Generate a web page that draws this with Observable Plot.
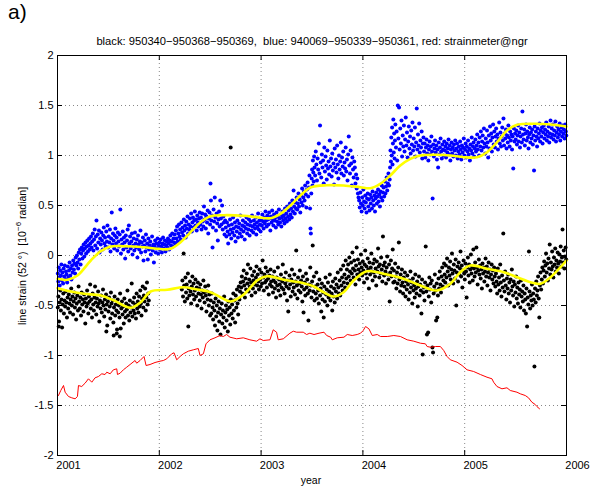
<!DOCTYPE html>
<html><head><meta charset="utf-8">
<script src="https://cdn.jsdelivr.net/npm/d3@7"></script>
<script src="https://cdn.jsdelivr.net/npm/@observablehq/plot@0.6"></script>
<style>
body{margin:0;background:#fff;}
#wrap{position:relative;width:590px;height:488px;font-family:"Liberation Sans",Arial,Helvetica,sans-serif;color:#000;}
.t{position:absolute;white-space:nowrap;}
</style></head><body>
<div id="wrap">
<div class="t" id="lab" style="left:8px;top:0px;font-size:21px;">a)</div>
<div class="t" id="title" style="left:312px;top:41px;font-size:11.2px;transform:translate(-50%,-50%);">black: 950340−950368−950369,&nbsp; blue: 940069−950339−950361, red: strainmeter@ngr</div>
<div class="t" id="ylab" style="left:22px;top:256px;font-size:10.5px;transform:translate(-50%,-50%) rotate(-90deg);">line strain (52 °)&nbsp; [10<sup style="font-size:8px;vertical-align:5px;line-height:0">−6</sup> radian]</div>
<div class="t" id="xlab" style="left:311px;top:480px;font-size:10.5px;transform:translate(-50%,-50%);">year</div>
</div>
<script>
const xTicks = [2001, 2002, 2003, 2004, 2005, 2006];
const yTicks = [-2, -1.5, -1, -0.5, 0, 0.5, 1, 1.5, 2];

const bluePts = [
[2001.003,-0.18],[2001.008,-0.26],[2001.012,-0.12],[2001.018,-0.22],[2001.022,-0.30],[2001.027,-0.15],[2001.033,-0.20],[2001.038,-0.09],[2001.043,-0.25],[2001.049,-0.17],[2001.055,-0.28],[2001.060,-0.13],[2001.066,-0.21],[2001.072,-0.10],[2001.077,-0.24],[2001.083,-0.16],[2001.089,-0.19],[2001.095,-0.27],[2001.101,-0.11],[2001.107,-0.22],[2001.113,-0.15],[2001.119,-0.07],[2001.125,-0.20],[2001.131,-0.13],[2001.137,-0.24],[2001.143,-0.10],[2001.149,-0.17],
[2001.155,-0.05],[2001.161,-0.14],[2001.167,-0.08],[2001.173,-0.18],[2001.179,-0.02],[2001.185,-0.10],[2001.191,0.00],[2001.197,-0.07],[2001.203,-0.13],[2001.209,0.03],[2001.215,-0.04],[2001.221,0.06],[2001.227,-0.09],[2001.233,0.02],[2001.239,0.08],[2001.245,-0.03],[2001.251,0.05],[2001.257,0.11],[2001.263,-0.01],[2001.269,0.07],[2001.275,0.13],[2001.281,0.02],[2001.287,0.09],[2001.293,0.15],[2001.299,0.04],[2001.305,0.10],[2001.311,0.17],[2001.317,0.06],[2001.323,0.12],[2001.329,0.19],[2001.335,0.08],[2001.341,0.14],
[2001.347,0.22],[2001.353,0.05],[2001.359,0.16],[2001.365,0.26],[2001.371,0.10],[2001.377,0.19],[2001.383,0.35],[2001.389,0.07],[2001.395,0.21],[2001.401,0.13],[2001.407,0.25],[2001.413,0.03],[2001.419,0.17],[2001.425,0.11],[2001.431,0.23],[2001.437,0.15],[2001.443,0.06],[2001.449,0.20],[2001.455,0.28],[2001.461,0.12],[2001.467,0.18],[2001.473,0.09],[2001.479,0.24],[2001.485,0.14],[2001.491,0.30],[2001.497,0.08],[2001.503,0.19],[2001.509,0.13],[2001.515,0.26],[2001.521,0.04],[2001.527,0.17],[2001.533,0.43],[2001.539,0.11],[2001.545,0.22],[2001.551,0.15],[2001.557,0.07],[2001.563,0.20],[2001.569,0.27],[2001.575,0.12],[2001.581,0.18],[2001.587,0.05],[2001.593,0.23],[2001.599,0.14],
[2001.605,0.09],[2001.611,0.21],[2001.617,0.46],[2001.623,0.02],[2001.629,0.16],[2001.635,0.11],[2001.641,0.24],[2001.647,0.06],[2001.653,0.18],[2001.659,0.13],[2001.665,-0.03],[2001.671,0.20],[2001.677,0.08],[2001.683,0.15],[2001.689,0.26],[2001.695,0.04],[2001.701,0.30],[2001.707,0.12],[2001.713,0.19],[2001.719,0.07],[2001.725,0.14],[2001.731,0.22],[2001.737,0.01],[2001.743,0.10],[2001.749,0.17],[2001.755,0.05],[2001.761,0.23],[2001.767,0.12],[2001.773,0.08],[2001.779,0.16],[2001.785,-0.02],[2001.791,0.20],[2001.797,0.11],[2001.803,0.06],[2001.809,0.14],[2001.815,0.25],[2001.821,0.03],[2001.827,0.13],[2001.833,0.09],[2001.839,0.18],[2001.845,-0.05],[2001.851,0.10],[2001.857,0.15],[2001.863,0.04],[2001.869,0.21],[2001.875,0.08],[2001.881,0.12],[2001.887,-0.04],[2001.893,0.17],[2001.899,0.06],[2001.905,0.10],[2001.911,0.14],[2001.917,0.01],[2001.923,0.08],[2001.929,0.19],[2001.935,0.05],[2001.941,0.11],[2001.947,-0.07],[2001.953,0.09],[2001.959,0.15],[2001.965,0.03],[2001.971,0.12],[2001.977,0.07],[2001.983,0.17],[2001.989,0.02],[2001.995,0.10],
[2002.001,0.13],[2002.007,0.06],[2002.013,0.16],[2002.019,0.09],[2002.025,0.03],[2002.031,0.12],[2002.037,0.18],[2002.043,0.07],[2002.049,0.11],[2002.055,0.15],[2002.061,0.04],[2002.067,0.10],[2002.073,0.14],[2002.079,0.08],[2002.085,0.17],[2002.091,0.12],[2002.097,0.06],[2002.103,0.15],[2002.109,0.20],[2002.115,0.10],[2002.121,0.14],[2002.127,0.22],[2002.133,0.09],[2002.139,0.17],[2002.145,0.13],
[2002.151,0.21],[2002.157,0.12],[2002.163,0.25],[2002.169,0.17],[2002.175,0.29],[2002.181,0.14],[2002.187,0.22],[2002.193,0.31],[2002.199,0.19],[2002.205,0.26],[2002.211,0.16],[2002.217,0.33],[2002.223,0.23],[2002.229,0.28],[2002.235,0.20],[2002.241,0.36],[2002.247,0.25],[2002.253,0.30],[2002.259,0.18],[2002.265,0.34],[2002.271,0.27],[2002.277,0.39],[2002.283,0.22],[2002.289,0.31],[2002.295,0.26],[2002.301,0.37],[2002.307,0.29],[2002.313,0.42],[2002.319,0.24],[2002.325,0.33],[2002.331,0.38],[2002.337,0.28],[2002.343,0.35],[2002.349,0.44],[2002.355,0.30],[2002.361,0.36],[2002.367,0.25],[2002.373,0.40],[2002.379,0.33],[2002.385,0.29],[2002.391,0.37],[2002.397,0.43],
[2002.403,0.31],[2002.409,0.38],[2002.415,0.26],[2002.421,0.42],[2002.427,0.34],[2002.433,0.29],[2002.439,0.49],[2002.445,0.36],[2002.451,0.41],[2002.457,0.27],[2002.463,0.39],[2002.469,0.33],[2002.475,0.45],[2002.481,0.22],[2002.487,0.37],[2002.493,0.43],[2002.499,0.31],[2002.503,0.72],[2002.507,0.55],[2002.511,0.35],[2002.517,0.40],[2002.523,0.08],[2002.527,0.28],[2002.533,0.46],[2002.539,0.34],[2002.545,0.58],[2002.551,0.38],[2002.557,0.25],[2002.563,0.42],[2002.569,0.32],[2002.575,0.15],[2002.581,0.36],[2002.587,0.44],[2002.593,0.29],[2002.599,0.55],[2002.605,0.37],[2002.611,0.31],[2002.617,0.50],[2002.623,0.26],[2002.629,0.39],[2002.635,0.33],[2002.641,0.21],[2002.647,0.35],
[2002.653,0.28],[2002.659,0.19],[2002.665,0.33],[2002.671,0.24],[2002.677,0.12],[2002.683,0.30],[2002.689,0.21],[2002.695,0.36],[2002.701,0.26],[2002.707,0.17],[2002.713,0.31],[2002.719,0.23],[2002.725,0.38],[2002.731,0.27],[2002.737,0.20],[2002.743,0.33],[2002.749,0.14],[2002.755,0.29],[2002.761,0.24],[2002.767,0.35],[2002.773,0.18],[2002.779,0.28],[2002.785,0.32],[2002.791,0.22],[2002.797,0.40],[2002.803,0.26],[2002.809,0.19],[2002.815,0.30],[2002.821,0.35],[2002.827,0.24],[2002.833,0.29],[2002.839,0.16],[2002.845,0.33],[2002.851,0.27],[2002.857,0.38],[2002.863,0.22],[2002.869,0.31],[2002.875,0.26],[2002.881,0.36],[2002.887,0.20],[2002.893,0.30],[2002.899,0.34],[2002.905,0.25],[2002.911,0.40],[2002.917,0.29],[2002.923,0.23],[2002.929,0.35],[2002.935,0.31],[2002.941,0.27],[2002.947,0.38],[2002.953,0.21],[2002.959,0.33],[2002.965,0.29],[2002.971,0.42],[2002.977,0.26],[2002.983,0.35],[2002.989,0.31],[2002.995,0.24],
[2003.001,0.36],[2003.007,0.30],[2003.013,0.41],[2003.019,0.34],[2003.025,0.27],[2003.031,0.38],[2003.037,0.32],[2003.043,0.44],[2003.049,0.35],[2003.055,0.29],[2003.061,0.40],[2003.067,0.36],[2003.073,0.31],[2003.079,0.43],[2003.085,0.37],[2003.091,0.25],[2003.097,0.39],[2003.103,0.33],[2003.109,0.45],[2003.115,0.36],[2003.121,0.30],[2003.127,0.41],[2003.133,0.35],[2003.139,0.38],[2003.145,0.28],[2003.151,0.43],[2003.157,0.34],[2003.163,0.39],[2003.169,0.31],[2003.175,0.46],[2003.181,0.37],[2003.187,0.33],[2003.193,0.41],[2003.199,0.29],[2003.205,0.38],[2003.211,0.44],[2003.217,0.35],[2003.223,0.40],[2003.229,0.32],[2003.235,0.47],[2003.241,0.37],[2003.247,0.42],[2003.253,0.34],[2003.259,0.49],[2003.265,0.39],[2003.271,0.45],[2003.277,0.36],[2003.283,0.52],[2003.289,0.41],[2003.295,0.47],[2003.301,0.38],[2003.307,0.55],[2003.313,0.44],[2003.319,0.65],[2003.325,0.49],[2003.331,0.42],[2003.337,0.53],[2003.343,0.47],
[2003.349,0.58],[2003.355,0.46],[2003.361,0.52],[2003.367,0.62],[2003.373,0.49],[2003.379,0.56],[2003.385,0.43],[2003.391,0.60],[2003.397,0.53],[2003.403,0.67],[2003.409,0.50],[2003.415,0.58],[2003.421,0.64],[2003.427,0.55],[2003.433,0.70],[2003.439,0.61],[2003.445,0.48],[2003.451,0.66],[2003.457,0.73],[2003.463,0.59],[2003.469,0.68],[2003.475,0.80],[2003.481,0.47],[2003.485,0.27],[2003.489,0.22],[2003.493,0.62],[2003.497,0.77],[2003.501,0.86],[2003.505,0.70],[2003.509,0.95],[2003.513,0.83],[2003.517,0.74],[2003.521,0.99],[2003.525,0.88],
[2003.531,0.80],[2003.537,1.04],[2003.543,0.91],[2003.549,0.75],[2003.555,0.97],[2003.561,0.86],[2003.567,1.12],[2003.573,0.82],[2003.579,1.30],[2003.585,0.93],[2003.591,0.78],[2003.597,1.01],[2003.603,0.88],[2003.609,0.95],[2003.615,0.72],[2003.621,1.08],[2003.627,0.84],[2003.633,0.99],[2003.639,0.90],[2003.645,0.76],[2003.651,1.05],[2003.657,0.87],[2003.663,0.94],[2003.669,0.81],[2003.675,1.15],[2003.681,0.89],[2003.687,0.97],[2003.693,0.79],[2003.699,1.02],[2003.705,0.85],[2003.711,0.92],[2003.717,0.71],[2003.723,1.07],[2003.729,0.88],[2003.735,0.96],[2003.741,0.83],[2003.747,1.10],[2003.753,0.91],[2003.759,0.77],[2003.765,1.00],[2003.771,0.86],[2003.777,0.94],[2003.783,1.13],[2003.789,0.82],[2003.795,0.98],[2003.801,0.89],[2003.807,1.04],[2003.813,0.80],[2003.819,0.93],[2003.825,0.87],[2003.831,1.08],[2003.837,0.84],[2003.843,0.96],[2003.849,0.75],[2003.855,1.01],[2003.861,1.19],[2003.867,0.90],[2003.873,0.82],[2003.879,1.05],[2003.885,0.92],[2003.891,0.70],[2003.897,0.98],[2003.903,0.86],[2003.909,0.78],[2003.915,0.94],[2003.921,0.88],[2003.927,0.72],[2003.933,0.81],[2003.939,0.67],[2003.945,0.77],[2003.951,0.62],[2003.957,0.58],
[2003.963,0.55],[2003.969,0.48],[2003.975,0.63],[2003.981,0.52],[2003.987,0.44],[2003.993,0.58],[2003.999,0.50],[2004.005,0.66],[2004.011,0.54],[2004.017,0.47],[2004.023,0.60],[2004.029,0.53],[2004.035,0.43],[2004.041,0.57],[2004.047,0.62],[2004.053,0.49],[2004.059,0.56],[2004.065,0.45],[2004.071,0.61],[2004.077,0.52],[2004.083,0.58],[2004.089,0.47],[2004.095,0.64],[2004.101,0.55],[2004.107,0.50],[2004.113,0.60],[2004.119,0.44],[2004.125,0.57],[2004.131,0.63],[2004.137,0.52],[2004.143,0.59],[2004.149,0.66],[2004.155,0.54],[2004.161,0.61],[2004.167,0.49],[2004.173,0.64],[2004.179,0.58],[2004.185,0.70],[2004.191,0.55],[2004.197,0.63],[2004.203,0.68],[2004.209,0.59],[2004.215,0.74],[2004.221,0.62],[2004.227,0.69],[2004.233,0.78],[2004.239,0.65],[2004.245,0.72],[2004.251,0.82],[2004.257,0.70],[2004.263,0.76],
[2004.267,0.88],[2004.271,1.05],[2004.275,0.94],[2004.279,1.18],[2004.283,1.00],[2004.287,1.28],[2004.291,0.91],[2004.295,1.12],[2004.299,1.36],[2004.303,1.03],[2004.307,1.22],[2004.311,0.97],[2004.315,1.15],[2004.319,1.31],[2004.325,1.08],[2004.331,1.24],[2004.337,0.95],[2004.343,1.50],[2004.349,1.17],[2004.355,1.48],[2004.361,1.06],[2004.367,1.27],[2004.373,1.12],[2004.379,1.35],[2004.385,0.99],[2004.391,1.20],[2004.397,1.09],[2004.403,1.30],[2004.409,1.04],[2004.415,1.16],[2004.421,1.38],[2004.427,1.10],[2004.433,1.23],[2004.439,0.98],[2004.445,1.14],[2004.451,1.29],[2004.457,1.07],[2004.463,1.19],[2004.469,1.02],[2004.475,1.25],[2004.481,1.11],[2004.487,1.33],[2004.493,1.05],[2004.499,1.17],[2004.505,1.09],[2004.511,1.28],[2004.517,0.99],[2004.523,1.13],[2004.529,1.47],[2004.535,1.06],[2004.541,1.21],[2004.547,1.10],[2004.553,1.32],[2004.559,1.03],[2004.565,1.15],[2004.571,1.08],[2004.577,1.24],[2004.583,0.97],[2004.589,1.12],[2004.595,1.18],
[2004.601,1.04],[2004.607,1.12],[2004.613,0.98],[2004.619,1.08],[2004.625,1.16],[2004.631,1.02],[2004.637,1.10],[2004.643,0.95],[2004.649,1.06],[2004.655,1.14],[2004.661,1.01],[2004.667,1.09],[2004.673,1.19],[2004.679,1.04],[2004.685,0.57],[2004.691,1.11],[2004.697,0.99],[2004.703,1.07],[2004.709,1.15],[2004.715,1.03],[2004.721,1.10],[2004.727,0.96],[2004.733,1.06],[2004.739,0.88],[2004.745,1.13],[2004.751,1.01],[2004.757,1.08],[2004.763,1.17],[2004.769,1.04],[2004.775,0.97],[2004.781,1.11],[2004.787,1.06],[2004.793,1.00],[2004.799,1.14],[2004.805,1.05],[2004.811,1.09],[2004.817,0.98],[2004.823,1.12],[2004.829,1.03],[2004.835,1.07],[2004.841,1.16],[2004.847,1.01],[2004.853,1.10],[2004.859,0.95],[2004.865,1.06],[2004.871,1.13],[2004.877,1.02],[2004.883,1.08],[2004.889,0.99],[2004.895,1.11],[2004.901,1.05],[2004.907,1.15],[2004.913,1.00],[2004.919,1.07],[2004.925,1.12],[2004.931,0.97],[2004.937,1.04],[2004.943,1.09],[2004.949,1.01],[2004.955,1.14],[2004.961,1.06],[2004.967,0.96],[2004.973,1.10],[2004.979,1.03],[2004.985,1.08],[2004.991,1.17],[2004.997,1.00],[2005.003,1.06],[2005.009,1.12],[2005.015,0.98],[2005.021,1.09],[2005.027,1.04],[2005.033,1.15],[2005.039,1.01],[2005.045,1.07],[2005.051,0.95],[2005.057,1.11],[2005.063,1.05],[2005.069,1.18],[2005.075,1.02],[2005.081,1.09],[2005.087,1.13],[2005.093,0.99],[2005.099,1.07],[2005.105,1.16],[2005.111,1.04],[2005.117,1.10],[2005.123,1.21],[2005.129,1.06],[2005.135,1.13],[2005.141,1.00],[2005.147,1.18],[2005.153,1.09],[2005.159,1.24],[2005.165,1.05],[2005.171,1.14],[2005.177,1.20],[2005.183,1.08],[2005.189,1.27],[2005.195,1.12],
[2005.201,1.02],[2005.207,1.17],[2005.213,1.09],[2005.219,1.25],[2005.225,1.13],[2005.231,0.98],[2005.237,1.20],[2005.243,1.07],[2005.249,1.29],[2005.255,1.15],[2005.261,1.22],[2005.267,1.04],[2005.273,1.18],[2005.279,1.31],[2005.285,1.11],[2005.291,1.24],[2005.297,1.08],[2005.303,1.19],[2005.309,1.27],[2005.315,1.14],[2005.321,1.21],[2005.327,1.06],[2005.333,1.17],[2005.339,1.33],[2005.345,1.12],[2005.351,1.23],[2005.357,1.09],[2005.363,1.19],[2005.369,1.28],[2005.375,1.15],[2005.381,1.37],[2005.387,1.10],[2005.393,1.22],[2005.399,1.17],[2005.405,1.26],[2005.411,1.07],[2005.417,1.20],[2005.423,1.13],[2005.429,1.30],[2005.435,1.18],[2005.441,1.09],[2005.447,1.24],[2005.453,1.15],[2005.459,1.21],[2005.465,1.06],[2005.471,1.19],[2005.477,0.87],[2005.483,1.27],[2005.489,1.14],[2005.495,1.22],
[2005.501,1.16],[2005.507,1.25],[2005.513,1.11],[2005.519,1.20],[2005.525,1.30],[2005.531,1.14],[2005.537,1.23],[2005.543,1.08],[2005.549,1.19],[2005.555,1.27],[2005.561,1.13],[2005.567,1.44],[2005.573,1.21],[2005.579,1.16],[2005.585,1.26],[2005.591,1.10],[2005.597,1.22],[2005.603,1.31],[2005.609,1.15],[2005.615,1.24],[2005.621,1.18],[2005.627,1.07],[2005.633,1.21],[2005.639,1.28],[2005.645,1.13],[2005.651,1.23],[2005.657,1.17],[2005.663,1.26],[2005.669,1.11],[2005.675,1.20],[2005.681,0.85],[2005.687,1.29],[2005.693,1.15],[2005.699,1.24],[2005.705,1.19],[2005.711,1.09],[2005.717,1.27],[2005.723,1.17],[2005.729,1.22],[2005.735,1.32],[2005.741,1.14],[2005.747,1.25],[2005.753,1.19],[2005.759,1.28],[2005.765,1.12],[2005.771,1.23],[2005.777,1.30],[2005.783,1.17],[2005.789,1.26],[2005.795,1.21],[2005.801,1.33],[2005.807,1.15],[2005.813,1.24],[2005.819,1.19],[2005.825,1.29],[2005.831,1.13],[2005.837,1.22],[2005.843,1.35],[2005.849,1.18],[2005.855,1.27],[2005.861,1.21],[2005.867,1.31],[2005.873,1.16],[2005.879,1.25],[2005.885,1.20],[2005.891,1.34],[2005.897,1.14],[2005.903,1.23],[2005.909,1.29],[2005.915,1.18],[2005.921,1.26],[2005.927,1.21],[2005.933,1.32],[2005.939,1.15],[2005.945,1.24],[2005.951,1.28],[2005.957,1.19],[2005.963,1.30],[2005.969,1.22],[2005.975,1.26],[2005.981,1.17],[2005.987,1.31],[2005.993,1.24],[2005.998,1.20]
];

const blackPts = [
[2001.003,-0.52],[2001.009,-0.41],[2001.012,-0.71],[2001.015,-0.66],[2001.021,-0.47],[2001.027,-0.35],[2001.033,-0.55],[2001.039,-0.44],[2001.045,-0.72],[2001.051,-0.49],[2001.057,-0.38],[2001.063,-0.58],[2001.069,-0.45],[2001.075,-0.51],[2001.081,-0.36],[2001.087,-0.47],[2001.093,-0.62],[2001.099,-0.42],[2001.105,-0.53],[2001.111,-0.39],[2001.117,-0.48],[2001.123,-0.57],[2001.129,-0.44],[2001.135,-0.33],[2001.141,-0.50],[2001.147,-0.41],[2001.153,-0.59],[2001.159,-0.46],[2001.165,-0.37],[2001.171,-0.52],[2001.177,-0.43],[2001.183,-0.64],[2001.189,-0.48],[2001.195,-0.40],[2001.201,-0.55],[2001.207,-0.31],[2001.213,-0.46],[2001.219,-0.53],[2001.225,-0.42],[2001.231,-0.60],[2001.237,-0.37],[2001.243,-0.49],[2001.249,-0.44],[2001.255,-0.56],[2001.261,-0.39],[2001.267,-0.47],[2001.273,-0.68],[2001.279,-0.43],[2001.285,-0.51],[2001.291,-0.35],[2001.297,-0.48],[2001.303,-0.58],[2001.309,-0.41],[2001.315,-0.46],[2001.321,-0.29],[2001.327,-0.53],[2001.333,-0.44],[2001.339,-0.62],[2001.345,-0.38],[2001.351,-0.49],[2001.357,-0.55],[2001.363,-0.42],[2001.369,-0.31],[2001.375,-0.47],[2001.381,-0.59],[2001.387,-0.43],[2001.393,-0.51],[2001.399,-0.36],[2001.405,-0.48],[2001.411,-0.66],[2001.417,-0.45],[2001.423,-0.53],[2001.429,-0.40],[2001.435,-0.57],[2001.441,-0.47],[2001.447,-0.34],[2001.453,-0.50],[2001.459,-0.61],[2001.465,-0.44],[2001.471,-0.54],[2001.477,-0.39],[2001.480,-0.76],[2001.483,-0.49],[2001.489,-0.70],[2001.495,-0.46],[2001.501,-0.56],[2001.507,-0.42],[2001.513,-0.51],[2001.519,-0.63],[2001.525,-0.37],[2001.531,-0.48],[2001.537,-0.58],[2001.543,-0.45],[2001.549,-0.67],[2001.552,-0.80],[2001.555,-0.52],[2001.561,-0.41],[2001.567,-0.60],[2001.573,-0.49],[2001.579,-0.55],[2001.582,-0.78],[2001.585,-0.74],[2001.591,-0.44],[2001.597,-0.57],[2001.603,-0.50],[2001.609,-0.62],[2001.612,-0.81],[2001.615,-0.38],[2001.621,-0.73],[2001.627,-0.53],[2001.633,-0.46],[2001.639,-0.59],[2001.645,-0.51],[2001.651,-0.68],[2001.657,-0.43],[2001.663,-0.56],[2001.669,-0.62],[2001.675,-0.48],[2001.681,-0.54],[2001.687,-0.35],[2001.693,-0.60],[2001.699,-0.50],[2001.705,-0.65],[2001.711,-0.45],[2001.717,-0.57],[2001.723,-0.52],[2001.729,-0.28],[2001.735,-0.61],[2001.741,-0.47],[2001.747,-0.55],[2001.753,-0.42],[2001.759,-0.58],[2001.765,-0.49],[2001.771,-0.63],[2001.777,-0.38],[2001.783,-0.53],[2001.789,-0.46],[2001.795,-0.57],[2001.801,-0.41],[2001.807,-0.51],[2001.813,-0.35],[2001.819,-0.48],[2001.825,-0.60],[2001.831,-0.43],[2001.837,-0.31],[2001.843,-0.52],[2001.849,-0.40],[2001.855,-0.46],[2001.861,-0.33],[2001.867,-0.55],[2001.873,-0.42],[2001.879,-0.27],[2001.885,-0.49],[2001.891,-0.38],[2001.897,-0.45],
[2002.221,-0.34],[2002.227,-0.25],[2002.233,-0.41],[2002.239,0.02],[2002.245,-0.30],[2002.251,-0.46],[2002.257,-0.22],[2002.263,-0.37],[2002.269,-0.29],[2002.275,-0.43],[2002.281,-0.18],[2002.285,-0.71],[2002.289,-0.33],[2002.295,-0.40],[2002.301,-0.26],[2002.307,-0.36],[2002.313,-0.48],[2002.319,-0.31],[2002.325,-0.21],[2002.331,-0.39],[2002.337,-0.28],[2002.343,-0.44],[2002.349,-0.35],[2002.355,-0.24],[2002.361,-0.41],[2002.367,-0.32],[2002.373,-0.50],[2002.379,-0.27],[2002.385,-0.38],[2002.391,-0.33],[2002.397,-0.45],[2002.403,-0.29],[2002.409,-0.39],[2002.415,-0.53],[2002.421,-0.35],[2002.427,-0.42],[2002.433,-0.25],[2002.439,-0.37],[2002.445,-0.47],[2002.451,-0.31],[2002.457,-0.40],[2002.463,-0.56],[2002.469,-0.36],[2002.475,-0.44],[2002.481,-0.30],[2002.487,-0.50],[2002.493,-0.39],[2002.499,-0.60],
[2002.505,-0.45],[2002.511,-0.58],[2002.517,-0.38],[2002.523,-0.52],[2002.529,-0.64],[2002.535,-0.47],[2002.541,-0.55],[2002.547,-0.70],[2002.553,-0.43],[2002.559,-0.61],[2002.565,-0.50],[2002.571,-0.75],[2002.577,-0.57],[2002.583,-0.46],[2002.589,-0.66],[2002.595,-0.53],[2002.601,-0.79],[2002.607,-0.59],[2002.613,-0.48],[2002.619,-0.68],[2002.625,-0.55],[2002.631,-0.62],[2002.637,-0.41],[2002.643,-0.72],[2002.649,-0.57],[2002.655,-0.50],[2002.661,-0.65],[2002.667,-0.54],[2002.673,-0.76],[2002.679,-0.46],[2002.685,-0.60],[2002.691,-0.52],[2002.697,-0.69],[2002.701,1.08],[2002.703,-0.44],[2002.709,-0.58],[2002.715,-0.49],[2002.721,-0.63],[2002.727,-0.38],[2002.733,-0.55],[2002.739,-0.45],[2002.745,-0.67],[2002.751,-0.40],[2002.757,-0.52],[2002.763,-0.34],[2002.769,-0.48],[2002.775,-0.59],[2002.781,-0.31],[2002.787,-0.44],[2002.793,-0.36],[2002.799,-0.27],
[2002.805,-0.32],[2002.811,-0.21],[2002.817,-0.38],[2002.823,-0.26],[2002.829,-0.15],[2002.835,-0.30],[2002.841,-0.42],[2002.847,-0.23],[2002.853,-0.34],[2002.859,-0.18],[2002.865,-0.28],[2002.871,-0.09],[2002.877,-0.36],[2002.883,-0.24],[2002.889,-0.31],[2002.895,-0.13],[2002.901,-0.27],[2002.907,-0.40],[2002.913,-0.20],[2002.919,-0.33],[2002.925,-0.25],[2002.931,-0.16],[2002.937,-0.29],[2002.943,-0.37],[2002.949,-0.22],[2002.955,-0.11],[2002.961,-0.30],[2002.967,-0.19],[2002.973,-0.26],[2002.979,-0.34],[2002.985,-0.14],[2002.991,-0.24],[2002.997,-0.31],[2003.003,-0.17],[2003.009,-0.28],[2003.015,-0.05],[2003.021,-0.22],[2003.027,-0.35],[2003.033,-0.19],[2003.039,-0.27],[2003.045,-0.12],[2003.051,-0.25],[2003.057,-0.32],[2003.063,-0.16],[2003.069,-0.23],[2003.075,-0.39],[2003.081,-0.20],[2003.087,-0.29],[2003.093,-0.14],[2003.099,-0.26],
[2003.105,-0.31],[2003.111,-0.21],[2003.117,-0.37],[2003.123,-0.25],[2003.129,-0.16],[2003.135,-0.33],[2003.141,-0.27],[2003.147,-0.42],[2003.153,-0.22],[2003.159,-0.30],[2003.165,-0.12],[2003.171,-0.35],[2003.177,-0.24],[2003.183,-0.29],[2003.189,-0.40],[2003.195,-0.19],[2003.201,-0.32],[2003.207,-0.26],[2003.213,-0.09],[2003.219,-0.34],[2003.225,-0.23],[2003.231,-0.38],[2003.237,-0.28],[2003.243,-0.17],[2003.249,-0.31],[2003.255,-0.45],[2003.261,-0.25],[2003.267,-0.56],[2003.273,-0.33],[2003.279,-0.20],[2003.285,-0.29],[2003.291,-0.41],[2003.297,-0.24],[2003.303,-0.14],[2003.309,-0.36],[2003.315,-0.27],[2003.321,-0.32],[2003.327,-0.19],[2003.333,-0.39],[2003.339,-0.26],[2003.345,0.05],[2003.351,-0.30],[2003.357,-0.43],[2003.363,-0.22],[2003.369,-0.35],[2003.375,-0.28],[2003.381,-0.15],[2003.387,-0.37],[2003.393,-0.25],[2003.399,-0.31],[2003.405,-0.46],[2003.411,-0.21],[2003.417,-0.57],[2003.423,-0.34],[2003.429,-0.27],[2003.435,-0.40],[2003.441,-0.18],[2003.447,-0.32],[2003.453,-0.24],[2003.459,-0.38],[2003.465,-0.65],[2003.471,-0.29],[2003.477,-0.35],[2003.483,-0.12],[2003.489,-0.30],
[2003.495,-0.42],[2003.501,-0.26],[2003.507,0.10],[2003.513,-0.36],[2003.519,-0.21],[2003.525,-0.45],[2003.531,-0.31],[2003.537,-0.38],[2003.543,-0.17],[2003.549,-0.43],[2003.555,-0.29],[2003.561,-0.35],[2003.567,-0.48],[2003.573,-0.24],[2003.579,-0.40],[2003.585,-0.33],[2003.591,-0.56],[2003.597,-0.28],[2003.603,-0.44],[2003.609,-0.37],[2003.615,-0.62],[2003.621,-0.31],[2003.627,-0.46],[2003.633,-0.22],[2003.639,-0.39],[2003.645,-0.34],[2003.651,-0.50],[2003.657,-0.27],[2003.663,-0.42],[2003.669,-0.36],[2003.675,-0.19],[2003.681,-0.45],[2003.687,-0.31],[2003.693,-0.38],[2003.699,-0.55],[2003.705,-0.26],[2003.711,-0.41],[2003.717,-0.33],[2003.723,-0.47],[2003.729,-0.23],[2003.735,-0.36],[2003.741,-0.29],[2003.747,-0.43],[2003.753,-0.17],[2003.759,-0.32],[2003.765,-0.38],[2003.771,-0.25],[2003.777,-0.40],[2003.783,-0.14],[2003.789,-0.30],[2003.795,-0.22],[2003.801,-0.35],[2003.807,-0.10],[2003.813,-0.27],[2003.819,-0.19],[2003.825,-0.32],[2003.831,-0.05],[2003.837,-0.23],[2003.843,-0.14],[2003.849,-0.28],
[2003.855,-0.09],[2003.861,-0.21],[2003.867,-0.02],[2003.873,-0.16],[2003.879,-0.25],[2003.885,-0.07],[2003.891,-0.18],[2003.897,0.03],[2003.903,-0.13],[2003.909,-0.22],[2003.915,-0.05],[2003.921,-0.15],[2003.927,-0.29],[2003.933,-0.10],[2003.939,0.08],[2003.945,-0.19],[2003.951,-0.04],[2003.957,-0.14],[2003.963,-0.24],[2003.969,-0.08],[2003.975,-0.17],[2003.981,0.01],[2003.987,-0.12],[2003.993,-0.20],[2003.999,-0.06],[2004.005,-0.15],[2004.011,-0.27],[2004.017,-0.09],[2004.023,0.05],[2004.029,-0.18],[2004.035,-0.11],[2004.041,-0.23],[2004.047,-0.03],[2004.053,-0.14],[2004.059,-0.33],[2004.065,-0.07],[2004.071,-0.19],[2004.077,-0.12],[2004.083,0.02],[2004.089,-0.16],[2004.095,-0.25],[2004.101,-0.08],[2004.107,-0.17],[2004.113,-0.04],[2004.119,-0.21],[2004.125,-0.13],[2004.131,-0.30],[2004.137,-0.06],[2004.143,-0.16],[2004.149,0.07],[2004.155,-0.11],[2004.161,-0.22],[2004.167,-0.09],[2004.173,-0.18],[2004.179,-0.02],[2004.185,-0.14],[2004.191,-0.26],[2004.197,0.19],[2004.203,-0.10],[2004.209,-0.20],[2004.215,-0.07],[2004.221,-0.16],[2004.227,-0.28],[2004.233,-0.12],[2004.239,-0.01],[2004.245,-0.19],[2004.251,-0.24],[2004.257,-0.09],[2004.263,-0.46],[2004.269,-0.17],[2004.275,-0.05],[2004.281,-0.21],[2004.287,-0.13],[2004.293,0.06],[2004.299,-0.27],
[2004.305,-0.15],[2004.311,-0.26],[2004.317,-0.08],[2004.323,-0.21],[2004.329,-0.33],[2004.335,-0.17],[2004.341,-0.28],[2004.347,-0.12],[2004.353,0.13],[2004.359,-0.24],[2004.365,-0.36],[2004.371,-0.19],[2004.377,-0.30],[2004.383,-0.14],[2004.389,-0.27],[2004.395,-0.38],[2004.401,-0.22],[2004.407,-0.31],[2004.413,-0.17],[2004.419,-0.41],[2004.425,-0.26],[2004.431,-0.34],[2004.437,-0.20],[2004.443,-0.29],[2004.449,-0.44],[2004.455,-0.25],[2004.461,-0.37],[2004.467,-0.16],[2004.473,-0.32],[2004.479,-0.27],[2004.485,-0.48],[2004.491,-0.23],[2004.497,-0.35],[2004.503,-0.30],[2004.509,-0.42],[2004.515,-0.19],[2004.521,-0.33],[2004.527,-0.38],[2004.533,-0.26],[2004.539,-0.51],[2004.545,-0.31],[2004.551,-0.21],[2004.557,-0.40],[2004.563,-0.29],[2004.569,-0.35],[2004.575,-0.58],[2004.581,-0.24],[2004.587,-0.99],[2004.593,-0.37],[2004.599,-0.32],[2004.605,-0.45],[2004.611,-0.27],[2004.617,0.09],[2004.623,-0.36],[2004.629,-0.79],[2004.635,-0.30],[2004.641,-0.77],[2004.647,-0.41],[2004.653,-0.22],[2004.659,-0.34],[2004.665,-0.28],[2004.671,-0.47],[2004.677,-0.25],[2004.683,-0.92],[2004.689,-0.97],[2004.695,-0.38],[2004.701,-0.31],[2004.707,-0.19],[2004.713,-0.35],[2004.719,-0.65],[2004.725,-0.28],[2004.731,-0.62],[2004.737,-0.40],[2004.743,-0.23],[2004.749,-0.33],[2004.755,-0.16],[2004.761,-0.29],[2004.767,-0.37],[2004.773,-0.21],[2004.779,-0.12],[2004.785,-0.31],[2004.791,-0.25],[2004.797,-0.08],
[2004.803,-0.19],[2004.809,-0.27],[2004.815,-0.10],[2004.821,-0.22],[2004.827,-0.03],[2004.833,-0.16],[2004.839,-0.30],[2004.845,-0.12],[2004.851,-0.20],[2004.857,-0.06],[2004.863,-0.24],[2004.869,-0.14],[2004.875,0.02],[2004.881,-0.18],[2004.887,-0.28],[2004.893,-0.09],[2004.899,-0.15],[2004.905,-0.23],[2004.911,-0.04],[2004.917,-0.50],[2004.923,-0.17],[2004.929,-0.11],[2004.935,-0.26],[2004.941,-0.07],[2004.947,-0.19],[2004.953,-0.13],[2004.959,0.04],[2004.965,-0.21],[2004.971,-0.10],[2004.977,-0.32],[2004.983,-0.15],[2004.989,-0.05],[2004.995,-0.18],[2005.001,-0.24],[2005.007,-0.08],[2005.013,-0.16],[2005.019,-0.42],[2005.025,-0.12],[2005.031,-0.02],[2005.037,-0.20],[2005.043,-0.09],[2005.049,-0.27],[2005.055,-0.14],[2005.061,0.01],[2005.067,-0.18],[2005.073,-0.11],[2005.079,-0.25],[2005.085,0.06],[2005.091,-0.13],[2005.097,-0.21],[2005.103,-0.07],[2005.109,-0.17],[2005.115,0.08],[2005.121,-0.12],[2005.127,-0.29],[2005.133,-0.15],[2005.139,-0.04],[2005.145,-0.19],[2005.151,-0.10],[2005.157,-0.23],[2005.163,-0.14],[2005.169,-0.33],[2005.175,-0.08],[2005.181,-0.18],[2005.187,-0.12],[2005.193,-0.26],[2005.199,-0.16],[2005.205,-0.03],[2005.211,-0.21],[2005.217,-0.11],[2005.223,-0.30],[2005.229,-0.17],[2005.235,-0.07],[2005.241,-0.22],[2005.247,-0.14],[2005.253,-0.35],[2005.259,-0.19],[2005.265,-0.09],[2005.271,-0.24],[2005.277,-0.15],[2005.283,-0.28],[2005.289,-0.12],[2005.295,-0.21],
[2005.301,-0.31],[2005.307,-0.18],[2005.313,-0.26],[2005.319,-0.38],[2005.325,-0.13],[2005.331,-0.29],[2005.337,-0.22],[2005.343,-0.35],[2005.349,-0.09],[2005.355,-0.27],[2005.361,-0.41],[2005.367,-0.20],[2005.373,-0.32],[2005.379,0.22],[2005.385,-0.25],[2005.391,-0.36],[2005.397,-0.16],[2005.403,-0.30],[2005.409,-0.44],[2005.415,-0.23],[2005.421,-0.33],[2005.427,-0.19],[2005.433,-0.38],[2005.439,-0.27],[2005.445,-0.47],[2005.451,-0.24],[2005.457,-0.35],[2005.463,-0.14],[2005.469,-0.31],[2005.475,-0.40],[2005.481,-0.26],[2005.487,-0.51],[2005.493,-0.29],[2005.499,-0.37],[2005.505,-0.21],[2005.511,-0.43],[2005.517,-0.32],[2005.523,-0.48],[2005.529,-0.27],[2005.535,-0.39],[2005.541,-0.34],[2005.547,-0.52],[2005.553,-0.25],[2005.559,-0.41],[2005.565,-0.36],[2005.571,-0.46],[2005.577,-0.30],[2005.583,-0.55],[2005.589,-0.38],[2005.595,-0.44],[2005.601,-0.58],[2005.607,-0.33],[2005.613,-0.71],[2005.619,-0.42],[2005.625,-0.49],[2005.631,0.04],[2005.637,-0.36],[2005.643,-0.53],[2005.649,-0.40],[2005.655,-0.45],[2005.661,-0.29],[2005.667,-0.50],[2005.673,-0.38],[2005.679,-0.44],[2005.685,-1.11],[2005.691,-0.33],[2005.697,-0.47],[2005.703,-0.26],[2005.709,-0.40],[2005.715,-0.35],[2005.721,-0.21],[2005.727,-0.43],[2005.733,-0.62],[2005.739,-0.30],[2005.745,-0.17],[2005.751,-0.34],[2005.757,-0.24],[2005.763,-0.12],
[2005.769,-0.28],[2005.775,-0.15],[2005.781,-0.06],[2005.787,-0.21],[2005.793,-0.10],[2005.799,0.02],[2005.805,-0.17],[2005.811,-0.08],[2005.817,-0.25],[2005.823,-0.03],[2005.829,-0.13],[2005.835,0.11],[2005.841,-0.19],[2005.847,-0.07],[2005.853,-0.14],[2005.859,0.04],[2005.865,-0.11],[2005.871,-0.22],[2005.877,-0.02],[2005.883,-0.09],[2005.889,0.07],[2005.895,-0.16],[2005.901,-0.05],[2005.907,-0.12],[2005.913,0.03],[2005.919,-0.08],[2005.925,-0.18],[2005.931,0.01],[2005.937,-0.06],[2005.943,0.09],[2005.949,-0.11],[2005.955,-0.02],[2005.961,0.26],[2005.967,-0.07],[2005.973,0.05],[2005.979,-0.13],[2005.985,-0.01],[2005.991,0.08],[2005.997,-0.04]
];

const yellowBlue = [
[2001.0,-0.233],[2001.098,-0.243],[2001.196,-0.2],[2001.327,-0.05],[2001.425,0.043],[2001.523,0.09],[2001.654,0.093],[2001.85,0.083],[2001.98,0.067],[2002.111,0.067],[2002.209,0.133],[2002.307,0.233],[2002.405,0.333],[2002.503,0.393],[2002.634,0.403],[2002.83,0.397],[2002.961,0.383],[2003.092,0.373],[2003.19,0.417],[2003.288,0.5],[2003.386,0.6],[2003.484,0.68],[2003.646,0.703],[2003.81,0.70],[2003.974,0.683],[2004.072,0.673],[2004.17,0.717],[2004.269,0.80],[2004.367,0.90],[2004.466,0.967],[2004.564,1.0],[2004.728,1.007],[2004.859,1.0],[2004.99,0.983],[2005.121,0.983],[2005.22,1.033],[2005.318,1.133],[2005.416,1.25],[2005.515,1.307],[2005.711,1.317],[2005.843,1.31],[2006.0,1.29]
];
const yellowBlack = [
[2001.0,-0.327],[2001.131,-0.36],[2001.261,-0.383],[2001.425,-0.40],[2001.556,-0.45],[2001.719,-0.523],[2001.817,-0.467],[2001.915,-0.36],[2002.078,-0.343],[2002.242,-0.317],[2002.373,-0.34],[2002.503,-0.367],[2002.601,-0.417],[2002.699,-0.46],[2002.83,-0.39],[2002.961,-0.25],[2003.059,-0.207],[2003.222,-0.243],[2003.418,-0.277],[2003.52,-0.31],[2003.613,-0.367],[2003.711,-0.41],[2003.81,-0.367],[2003.908,-0.25],[2004.039,-0.157],[2004.203,-0.183],[2004.40,-0.233],[2004.564,-0.30],[2004.728,-0.35],[2004.859,-0.283],[2004.957,-0.167],[2005.056,-0.10],[2005.22,-0.133],[2005.384,-0.167],[2005.515,-0.217],[2005.646,-0.267],[2005.744,-0.283],[2005.843,-0.217],[2006.0,-0.05]
];
const redLine = [
[2001.0095,-1.40],[2001.032,-1.35],[2001.059,-1.30],[2001.075,-1.367],[2001.108,-1.41],[2001.140,-1.423],[2001.173,-1.433],[2001.196,-1.41],[2001.206,-1.30],[2001.238,-1.31],[2001.271,-1.277],[2001.304,-1.233],[2001.337,-1.267],[2001.369,-1.223],[2001.402,-1.21],[2001.435,-1.183],[2001.467,-1.19],[2001.484,-1.167],[2001.517,-1.183],[2001.549,-1.143],[2001.582,-1.133],[2001.589,-1.19],[2001.615,-1.177],[2001.647,-1.143],[2001.680,-1.117],[2001.713,-1.09],[2001.762,-1.05],[2001.778,-1.077],[2001.811,-1.05],[2001.850,-1.01],[2001.870,-1.10],[2001.909,-1.09],[2001.958,-1.07],[2002.007,-1.057],[2002.040,-1.05],[2002.073,-1.033],[2002.122,-0.983],[2002.145,-0.973],[2002.171,-1.043],[2002.204,-1.01],[2002.236,-0.983],[2002.285,-0.957],[2002.334,-0.943],[2002.383,-0.93],[2002.400,-1.0],[2002.433,-0.983],[2002.459,-0.883],[2002.498,-0.843],[2002.547,-0.823],[2002.596,-0.80],[2002.629,-0.81],[2002.661,-0.79],[2002.694,-0.817],[2002.760,-0.833],[2002.825,-0.823],[2002.890,-0.843],[2002.956,-0.857],[2002.989,-0.833],[2003.021,-0.85],[2003.087,-0.843],[2003.119,-0.743],[2003.152,-0.767],[2003.168,-0.843],[2003.218,-0.833],[2003.283,-0.777],[2003.316,-0.757],[2003.348,-0.767],[2003.414,-0.767],[2003.447,-0.79],[2003.479,-0.777],
[2003.520,-0.79],[2003.569,-0.777],[2003.618,-0.767],[2003.644,-0.80],[2003.683,-0.817],[2003.699,-0.843],[2003.748,-0.823],[2003.814,-0.817],[2003.846,-0.79],[2003.895,-0.80],[2003.944,-0.79],[2003.977,-0.777],[2004.003,-0.75],[2004.026,-0.71],[2004.059,-0.733],[2004.092,-0.80],[2004.141,-0.79],[2004.173,-0.81],[2004.239,-0.81],[2004.304,-0.80],[2004.369,-0.81],[2004.435,-0.843],[2004.50,-0.857],[2004.565,-0.877],[2004.614,-0.883],[2004.631,-0.91],[2004.663,-0.917],[2004.712,-0.91],[2004.761,-0.91],[2004.794,-0.95],[2004.827,-1.01],[2004.859,-1.043],[2004.925,-1.067],[2004.974,-1.10],[2005.023,-1.143],[2005.088,-1.16],[2005.154,-1.19],[2005.219,-1.217],[2005.268,-1.233],[2005.284,-1.267],[2005.317,-1.31],[2005.366,-1.333],[2005.415,-1.323],[2005.448,-1.35],[2005.513,-1.367],[2005.546,-1.383],[2005.595,-1.40],[2005.627,-1.423],[2005.660,-1.467],[2005.693,-1.49],[2005.709,-1.51],[2005.735,-1.533]
];

const W = 590, H = 488, mL = 57, mR = 24, mT = 55, mB = 33;
const fw = W - mL - mR, fh = H - mT - mB, tk = 5;

const chart = Plot.plot({
  width: W, height: H,
  marginLeft: mL, marginRight: mR, marginTop: mT, marginBottom: mB,
  style: {fontFamily: '"Liberation Sans", Arial, Helvetica, sans-serif', fontSize: "11px", background: "white", color: "black"},
  x: {domain: [2001, 2006], axis: null},
  y: {domain: [-2, 2], axis: null},
  marks: [
    Plot.ruleX(xTicks.slice(1, -1), {stroke: "#888", strokeDasharray: "1,3", strokeWidth: 1}),
    Plot.ruleY(yTicks.slice(1, -1), {stroke: "#888", strokeDasharray: "1,3", strokeWidth: 1}),
    Plot.dot(bluePts, {x: d => d[0], y: d => d[1], r: 2, fill: "#0000ff", stroke: null}),
    Plot.dot(blackPts, {x: d => d[0], y: d => d[1], r: 2, fill: "#000000", stroke: null}),
    Plot.line(yellowBlue, {x: d => d[0], y: d => d[1], stroke: "#ffff00", strokeWidth: 2.6, curve: "catmull-rom"}),
    Plot.line(yellowBlack, {x: d => d[0], y: d => d[1], stroke: "#ffff00", strokeWidth: 2.6, curve: "catmull-rom"}),
    Plot.line(redLine, {x: d => d[0], y: d => d[1], stroke: "#ff0000", strokeWidth: 1}),
    Plot.ruleX(xTicks, {stroke: "black", insetTop: fh - tk}),
    Plot.ruleX(xTicks, {stroke: "black", insetBottom: fh - tk}),
    Plot.ruleY(yTicks, {stroke: "black", insetRight: fw - tk}),
    Plot.ruleY(yTicks, {stroke: "black", insetLeft: fw - tk}),
    Plot.frame({stroke: "black", strokeWidth: 1}),
    Plot.axisX(xTicks, {tickSize: 0, tickPadding: 6, dx: 11, tickFormat: d => String(d), label: null, fontSize: 11}),
    Plot.axisY(yTicks, {tickSize: 0, tickPadding: 4, tickFormat: d => String(d), label: null, fontSize: 11})
  ]
});
chart.style.position = "absolute";
chart.style.left = "0px";
chart.style.top = "0px";
document.getElementById("wrap").prepend(chart);
</script>
</body></html>
